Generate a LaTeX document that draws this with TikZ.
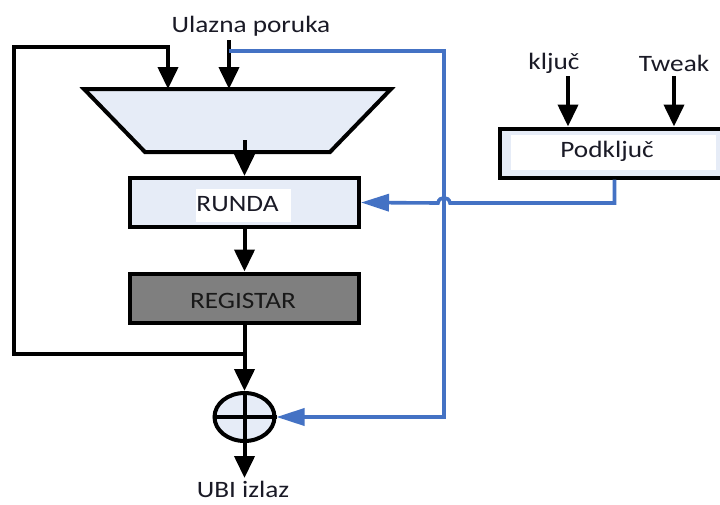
\documentclass[tikz,border=0pt]{standalone}
\usepackage{fontspec}
\setmainfont{Carlito}[FakeStretch=1.16]
\usetikzlibrary{arrows.meta,shapes.geometric}
\definecolor{boxfill}{HTML}{E6ECF7}
\definecolor{linkblue}{HTML}{4472C4}
\definecolor{regfill}{HTML}{7F7F7F}
\definecolor{ink}{HTML}{1A1A26}

\begin{document}
\begin{tikzpicture}[x=1pt,y=-1pt,
  wire/.style={line width=4pt, black},
  flow/.style={wire, -{Triangle[length=22pt,width=20pt]}},
  keywire/.style={line width=3.6pt, linkblue},
  keyflow/.style={keywire, -{Triangle[length=28pt,width=17pt]}},
  block/.style={draw=black, line width=4pt, rectangle, minimum width=229pt,
                minimum height=49pt, inner sep=0pt},
  txt/.style={font=\fontsize{23.5}{26}\selectfont, text=ink, inner sep=0pt, anchor=base},
  pad/.style={fill=white, inner sep=0pt}
]
\clip (0,0) rectangle (720,504);
\fill[white] (0,0) rectangle (720,504);

% combining stage (trapezoid)
\draw[line width=4pt, fill=boxfill] (84,89) -- (391,89) -- (330,152) -- (145,152) -- cycle;
\coordinate (muxA) at (168,89);
\coordinate (muxB) at (229,89);
\coordinate (muxOut) at (244.5,140);

% round function
\node[block, fill=boxfill] (runda) at (244.5,202.5) {};
\node[pad, minimum width=95pt, minimum height=33pt] (rundapad) at (243.5,205.5) {};
\node[txt] (rundatxt) at (237.5,211) {RUNDA};

% register
\node[block, fill=regfill] (reg) at (244.5,298) {};
\node[txt, text=black!90] (regtxt) at (243,308) {REGISTAR};

% xor
\node[ellipse, draw, line width=4pt, fill=boxfill, minimum width=60pt,
      minimum height=48pt, inner sep=0pt] (xor) at (244.5,417) {};
\draw[wire] (xor.north) -- (xor.south);
\draw[wire] (xor.west) -- (xor.east);

% subkey generator
\node[block, fill=boxfill] (sub) at (614.5,153) {};
\node[pad, minimum width=205pt, minimum height=35pt] (subpad) at (613.5,152.5) {};
\node[txt] (subtxt) at (607,157) {Podključ};

% labels
\node[txt] (msg) at (251,32) {Ulazna poruka};
\node[txt] (key) at (554,69) {ključ};
\node[txt] (tweak) at (674,71) {Tweak};
\node[txt] (out) at (243,497) {UBI izlaz};

% black data path
\coordinate (msgIn) at (229,40);
\coordinate (tap) at (244.5,354);
\coordinate (outTip) at (244.5,478);
\coordinate (keyIn) at (568,76);
\coordinate (tweakIn) at (674,76);
\draw[flow] (msgIn) -- (muxB);
\draw[flow] (muxOut) -- (runda.north);
\draw[flow] (runda.south) -- (reg.north);
\draw[flow] (reg.south) -- (xor.north);
\draw[flow] (tap) -| (14,47) -| (muxA);
\draw[flow] (xor.south) -- (outTip);
\draw[flow] (keyIn) -- (keyIn |- sub.north);
\draw[flow] (tweakIn) -- (tweakIn |- sub.north);

% blue key/feed-forward path
\coordinate (tapB) at (229,51);
\draw[keyflow] (tapB) -| (444,417) -- (xor.east);
\draw[keyflow] (sub.south) -- (614.5,203) -- (450,203)
  .. controls (449,196) and (439,196) .. (438,203) -- (runda.east);
\end{tikzpicture}
\end{document}
